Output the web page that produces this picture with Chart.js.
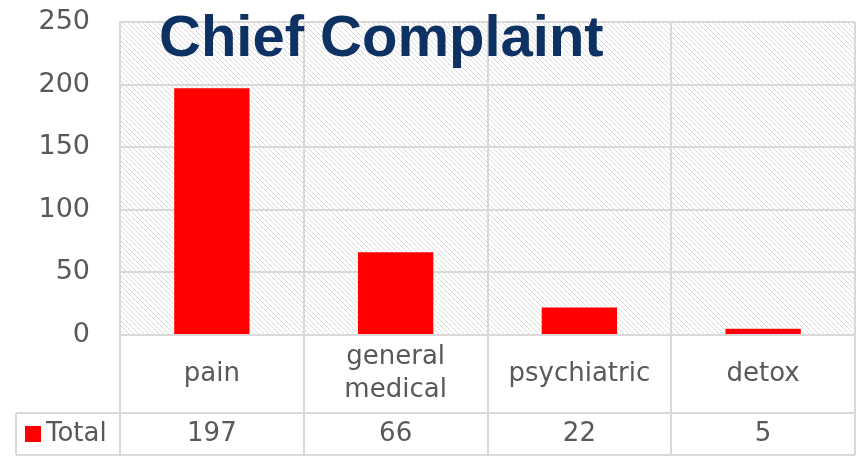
<!DOCTYPE html>
<html>
<head>
<meta charset="utf-8">
<script src="https://cdn.jsdelivr.net/npm/chart.js@4"></script>
<style>
  html, body { margin: 0; padding: 0; background: #fff; }
  #wrap { width: 856px; height: 462px; position: relative; }
</style>
</head>
<body>
<div id="wrap"><canvas id="chart" width="856" height="462"></canvas></div>
<script>
(function () {

    // data
    let categories = [["pain"], ["general", "medical"], ["psychiatric"], ["detox"]],
        seriesName = "Total",
        totals = [197, 66, 22, 5],
        yTicks = [0, 50, 100, 150, 200, 250],
        titleText = "Chief Complaint";

    const grey = "#d9d9d9",
        textGrey = "#595959",
        font = "'DejaVu Sans', sans-serif";

    // hatch pattern for the plot area
    function makeHatch() {
        let n = 5;
        let c = document.createElement("canvas");
        c.width = n; c.height = n;
        let g = c.getContext("2d");
        g.fillStyle = "#fff";
        g.fillRect(0, 0, n, n);
        g.strokeStyle = "#dadada";
        g.lineWidth = 1;
        g.beginPath();
        g.moveTo(-1, -1); g.lineTo(n + 1, n + 1);
        g.moveTo(-1, n - 1); g.lineTo(1, n + 1);
        g.moveTo(n - 1, -1); g.lineTo(n + 1, 1);
        g.stroke();
        return c;
    }

    const hatchBg = {
        id: "hatchBg",
        beforeDraw(chart) {
            let ctx = chart.ctx, a = chart.chartArea;
            ctx.save();
            ctx.fillStyle = ctx.createPattern(makeHatch(), "repeat");
            ctx.fillRect(a.left, a.top, a.right - a.left, a.bottom - a.top);
            ctx.restore();
        }
    };

    // data table under the plot, plus the title
    const dataTable = {
        id: "dataTable",
        afterDraw(chart) {
            let ctx = chart.ctx, a = chart.chartArea, x = chart.scales.x;
            let rowTop = a.bottom, rowMid = a.bottom + 78, rowBot = a.bottom + 120;
            let n = categories.length, step = (a.right - a.left) / n;
            ctx.save();
            ctx.strokeStyle = grey;
            ctx.lineWidth = 2;
            ctx.beginPath();
            for (let i = 0; i <= n; i++) {
                let px = Math.round(a.left + i * step);
                ctx.moveTo(px, rowTop); ctx.lineTo(px, rowBot);
            }
            ctx.moveTo(16, rowMid); ctx.lineTo(16, rowBot);
            ctx.moveTo(16, rowMid); ctx.lineTo(a.right, rowMid);
            ctx.moveTo(16, rowBot); ctx.lineTo(a.right, rowBot);
            ctx.stroke();

            ctx.fillStyle = textGrey;
            ctx.font = "26px " + font;
            ctx.textAlign = "center";
            ctx.textBaseline = "middle";
            let labelMid = (rowTop + rowMid) / 2;
            categories.forEach(function (lines, i) {
                let cx = x.getPixelForValue(i);
                let lh = 33, y0 = labelMid - (lines.length - 1) * lh / 2;
                lines.forEach(function (t, k) { ctx.fillText(t, cx, y0 + k * lh); });
                ctx.fillText(String(totals[i]), cx, (rowMid + rowBot) / 2);
            });

            // legend key + series name
            ctx.fillStyle = "#ff0000";
            ctx.fillRect(25, (rowMid + rowBot) / 2 - 8, 16, 16);
            ctx.fillStyle = textGrey;
            ctx.textAlign = "left";
            ctx.fillText(seriesName, 46, (rowMid + rowBot) / 2);

            // title
            ctx.fillStyle = "#0e3164";
            ctx.font = "bold 58px 'Liberation Sans', Arial, sans-serif";
            ctx.textBaseline = "alphabetic";
            ctx.fillText(titleText, 159, 56);
            ctx.restore();
        }
    };

    let ctx = document.getElementById("chart");
    let myChart = new Chart(ctx, {
        type: "bar",
        data: {
            labels: categories.map(function (l) { return l.join(" "); }),
            datasets: [{
                label: seriesName,
                data: totals,
                backgroundColor: "#ff0000",
                categoryPercentage: 1,
                barPercentage: 0.41
            }]
        },
        options: {
            responsive: false,
            animation: false,
            layout: { padding: { top: 22, right: 1, bottom: 7, left: 0 } },
            plugins: {
                legend: { display: false },
                tooltip: { enabled: false },
                title: { display: false }
            },
            scales: {
                x: {
                    grid: { color: grey, lineWidth: 2, offset: true, drawTicks: false },
                    border: { color: grey, width: 2 },
                    ticks: { display: false },
                    afterFit: function (s) { s.height = 120; s.paddingLeft = 0; s.paddingRight = 0; }
                },
                y: {
                    min: yTicks[0],
                    max: yTicks[yTicks.length - 1],
                    grid: { color: grey, lineWidth: 2, drawTicks: false },
                    border: { color: grey, width: 2 },
                    ticks: {
                        stepSize: yTicks[1] - yTicks[0],
                        color: textGrey,
                        padding: 30,
                        font: { family: font, size: 27 }
                    },
                    afterFit: function (s) { s.width = 120; s.paddingTop = 0; s.paddingBottom = 0; }
                }
            }
        },
        plugins: [hatchBg, dataTable]
    });
})();
</script>
</body>
</html>
